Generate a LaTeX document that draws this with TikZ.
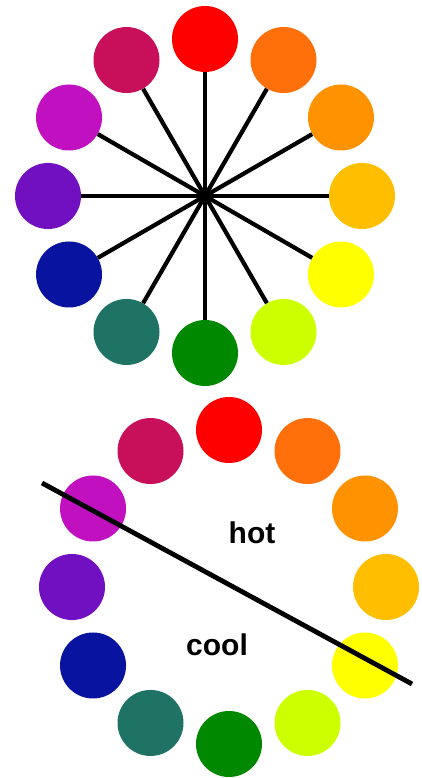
\documentclass[tikz,border=0pt]{standalone}
\usepackage{xcolor}
\usepackage{fontspec}
\setmainfont{Liberation Sans}
\usepackage{tikz}
\usetikzlibrary{calc}
\definecolor{cred}{RGB}{255,0,0}
\definecolor{cora}{RGB}{255,112,10}
\definecolor{corb}{RGB}{255,146,0}
\definecolor{camb}{RGB}{255,190,0}
\definecolor{cyel}{RGB}{255,255,0}
\definecolor{clim}{RGB}{204,255,0}
\definecolor{cgrn}{RGB}{0,136,0}
\definecolor{cteal}{RGB}{30,115,100}
\definecolor{cblu}{RGB}{8,20,160}
\definecolor{cvio}{RGB}{112,16,192}
\definecolor{cmag}{RGB}{192,16,192}
\definecolor{ccrim}{RGB}{200,16,90}
\tikzset{
    dot/.style={circle, minimum size=66pt, inner sep=0pt},
    spoke/.style={line width=4.2pt},
    divider/.style={line width=4.8pt},
    zonetext/.style={font=\fontsize{30}{36}\selectfont\bfseries, inner sep=0pt},
}

\begin{document}
\begin{tikzpicture}[x=1pt, y=1pt]
\useasboundingbox (0,0) rectangle (421,778);

% === TOP WHEEL ===
\coordinate (tc) at (205,582);
\foreach \ang/\col/\nm in {90/cred/red, 60/cora/ora, 30/corb/orb, 0/camb/amb,
    -30/cyel/yel, -60/clim/lim, -90/cgrn/grn, -120/cteal/teal,
    -150/cblu/blu, 180/cvio/vio, 150/cmag/mag, 120/ccrim/crim}{
  \node[dot, fill=\col] (t\nm) at ($(tc)+(\ang:157pt)$) {};
  \draw[spoke] (tc) -- (t\nm);
}

% === BOTTOM WHEEL ===
\coordinate (bc) at (229,191);
\foreach \ang/\col/\nm in {90/cred/red, 60/cora/ora, 30/corb/orb, 0/camb/amb,
    -30/cyel/yel, -60/clim/lim, -90/cgrn/grn, -120/cteal/teal,
    -150/cblu/blu, 180/cvio/vio, 150/cmag/mag, 120/ccrim/crim}{
  \node[dot, fill=\col] (b\nm) at ($(bc)+(\ang:157pt)$) {};
}

% hot / cool split
\coordinate (dstart) at (42,295);
\coordinate (dend) at (412,94);
\draw[divider] (dstart) -- (dend);
\node[zonetext] (hot) at (252,245) {hot};
\node[zonetext] (cool) at (217,133) {cool};

\end{tikzpicture}
\end{document}
